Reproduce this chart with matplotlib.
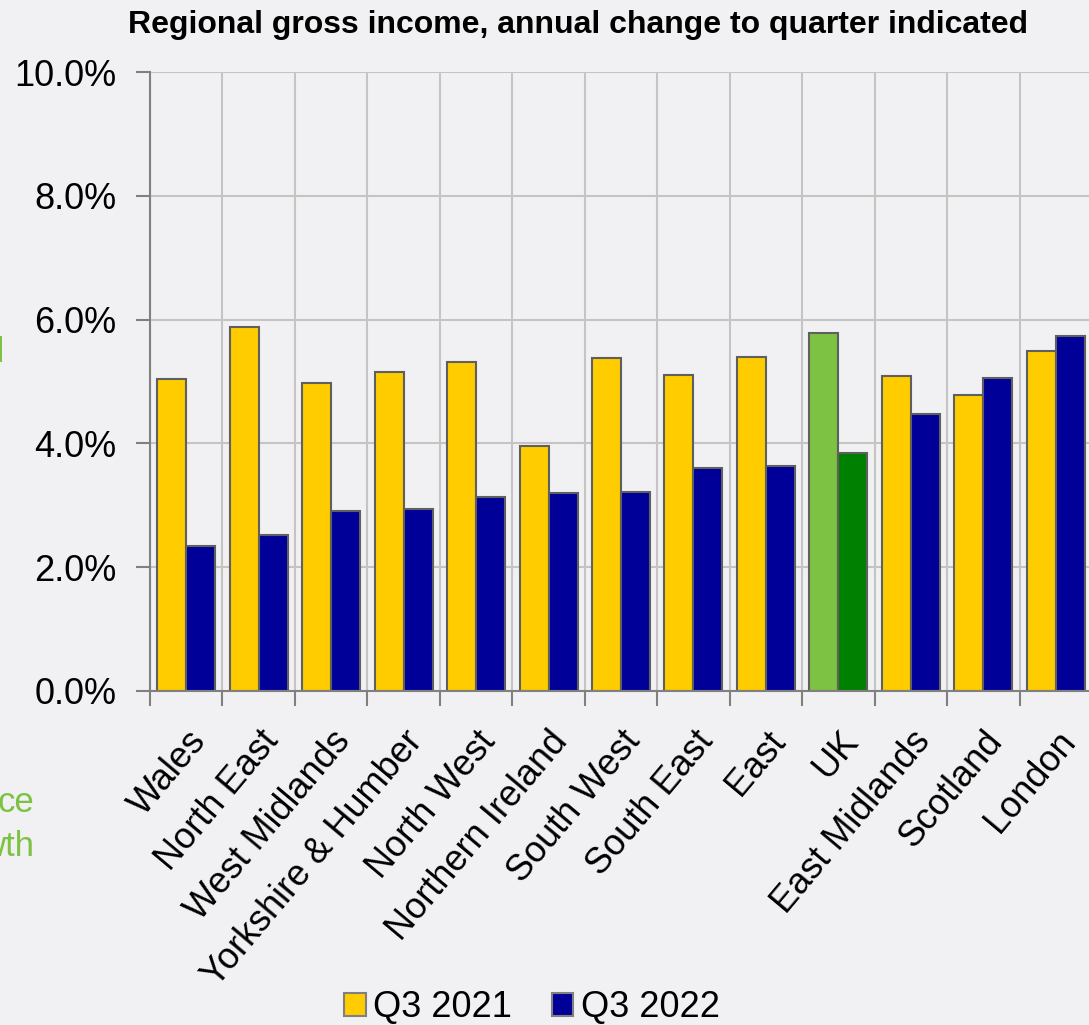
import numpy as np
import matplotlib.pyplot as plt

plt.rcParams['font.family'] = ['Liberation Sans', 'DejaVu Sans']

regions = ["Wales", "North East", "West Midlands", "Yorkshire & Humber", "North West",
           "Northern Ireland", "South West", "South East", "East", "UK",
           "East Midlands", "Scotland", "London"]
q3_2021 = [5.04, 5.88, 4.98, 5.15, 5.32, 3.96, 5.38, 5.10, 5.40, 5.78, 5.09, 4.78, 5.49]
q3_2022 = [2.34, 2.52, 2.91, 2.94, 3.13, 3.20, 3.21, 3.60, 3.63, 3.84, 4.47, 5.06, 5.74]
yticks = [0, 2, 4, 6, 8, 10]

bg = "#f1f1f3"
yellow = "#ffcc00"
navy = "#000099"
lgreen = "#7dc242"
dgreen = "#008000"

fig = plt.figure(figsize=(10.89, 10.25), dpi=100, facecolor=bg)
ax = fig.add_axes([150/1089, 1 - 691/1025, (1092-150)/1089, (691-72)/1025])
ax.set_facecolor(bg)

x = np.arange(len(regions))
c1 = [lgreen if r == "UK" else yellow for r in regions]
c2 = [dgreen if r == "UK" else navy for r in regions]
ax.bar(x - 0.2, q3_2021, 0.4, color=c1, edgecolor="#5f5f5f", linewidth=1.5, zorder=3, label="Q3 2021")
ax.bar(x + 0.2, q3_2022, 0.4, color=c2, edgecolor="#5f5f5f", linewidth=1.5, zorder=3, label="Q3 2022")

ax.set_xlim(-0.5, len(regions) - 0.5)
ax.set_ylim(0, 10)
ax.set_yticks(yticks)
ax.set_yticklabels([f"{v:.1f}%" for v in yticks], fontsize=26)
ax.set_xticks(x)
ax.set_xticklabels(regions, rotation=50, ha="right", rotation_mode="anchor", fontsize=26)
ax.tick_params(axis="x", length=0, pad=24)
ax.set_xticks(np.arange(-0.5, len(regions)), minor=True)
ax.tick_params(axis="x", which="minor", length=11, width=1.5, color="#808080")
ax.tick_params(axis="y", length=10, width=1.5, color="#808080", pad=14)

ax.grid(True, which="minor", axis="x", color="#c4c4c4", linewidth=1.5, zorder=0)
ax.grid(True, which="major", axis="y", color="#c4c4c4", linewidth=1.5, zorder=0)
ax.grid(False, which="major", axis="x")

for s in ["top", "right"]:
    ax.spines[s].set_visible(False)
ax.spines["left"].set_color("#808080")
ax.spines["left"].set_linewidth(1.5)
ax.spines["bottom"].set_color("#808080")
ax.spines["bottom"].set_linewidth(1.5)
ax.spines["bottom"].set_zorder(4)

fig.text(578/1089, 1 - 25/1025, "Regional gross income, annual change to quarter indicated",
         ha="center", va="center", fontsize=23, fontweight="bold")

leg = fig.legend(loc="center", bbox_to_anchor=(532/1089, 1 - 1008/1025), ncol=2, frameon=False,
                 fontsize=26, handlelength=0.6, handleheight=0.6, handletextpad=0.2,
                 columnspacing=1.1, borderaxespad=0)
for h, c in zip(leg.legend_handles, [yellow, navy]):
    h.set_facecolor(c)
    h.set_edgecolor("#808080")
    h.set_linewidth(1.5)

# side text that is cut off at the left edge of the slide
fig.text(34/1089, 1 - 803/1025, "ce", ha="right", va="center", fontsize=25, color=lgreen)
fig.text(34/1089, 1 - 847/1025, "wth", ha="right", va="center", fontsize=25, color=lgreen)
fig.text(4/1089, 1 - 352/1025, "d", ha="right", va="center", fontsize=25, color=lgreen)

fig.savefig("out.png", dpi=100, facecolor=bg)
